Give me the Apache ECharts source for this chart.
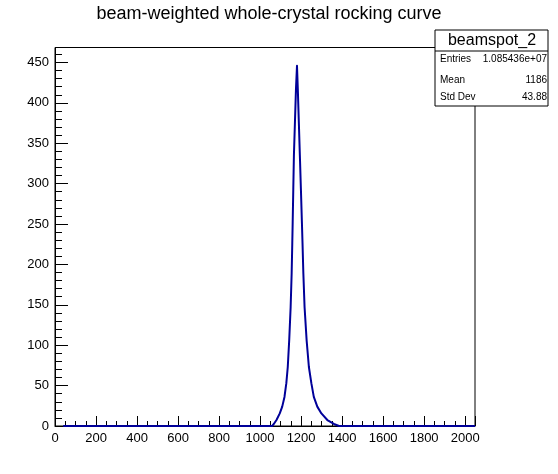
<!DOCTYPE html>
<html>
<head>
<meta charset="utf-8">
<script src="https://cdn.jsdelivr.net/npm/echarts@6/dist/echarts.min.js"></script>
<style>
html,body{margin:0;padding:0;background:#fff;}
#c{width:558px;height:474px;}
</style>
</head>
<body>
<div id="c"></div>
<script>
// Histogram sample points (x = channel, y = counts)
const binX = [40, 1040, 1059, 1067, 1080, 1096, 1108, 1119, 1128, 1135, 1142, 1149, 1154, 1157, 1159, 1162, 1165, 1170, 1175, 1180,
              1184, 1189, 1194, 1199, 1204, 1207, 1211, 1217, 1227, 1238, 1250, 1262, 1279, 1299, 1328, 1360, 1385, 2048];
const binY = [0, 0, 0, 2.5, 7.4, 15.6, 24, 36, 53, 73, 106, 147, 189, 226, 252, 294, 335, 376, 417, 446,
              417, 376, 335, 294, 252, 226, 189, 147, 106, 73, 53, 36, 24, 15.6, 7.4, 2.5, 0, 0];
const statsLabels = ["Entries", "Mean", "Std Dev"];
const statsValues = ["1.085436e+07", "1186", "43.88"];
const histName = "beamspot_2";
const chartTitle = "beam-weighted whole-crystal rocking curve";

const FONT = "Liberation Sans";
const chart = echarts.init(document.getElementById('c'), null, {renderer: 'canvas'});

const graphics = [
  {type: 'text', x: 269, y: 14, style: {text: chartTitle, font: '18px "' + FONT + '"', fill: '#000', textAlign: 'center', textVerticalAlign: 'middle'}, z: 101},
  {type: 'rect', shape: {x: 435, y: 30, width: 113, height: 76}, style: {fill: '#fff', stroke: '#000', lineWidth: 1}, z: 100},
  {type: 'line', shape: {x1: 435, y1: 51, x2: 548, y2: 51}, style: {stroke: '#000', lineWidth: 1}, z: 101},
  {type: 'text', x: 492, y: 40.5, style: {text: histName, font: '16px "' + FONT + '"', fill: '#000', textAlign: 'center', textVerticalAlign: 'middle'}, z: 101}
];
const rowY = [59.5, 80.5, 97];
statsLabels.forEach((l, i) => {
  graphics.push({type: 'text', x: 440, y: rowY[i], style: {text: l, font: '10px "' + FONT + '"', fill: '#000', textAlign: 'left', textVerticalAlign: 'middle'}, z: 101});
  graphics.push({type: 'text', x: 547, y: rowY[i], style: {text: statsValues[i], font: '10px "' + FONT + '"', fill: '#000', textAlign: 'right', textVerticalAlign: 'middle'}, z: 101});
});

chart.setOption({
  animation: false,
  backgroundColor: '#fff',
  grid: {left: 55, right: 83, top: 47.5, bottom: 48, show: true, borderColor: '#000', borderWidth: 1, backgroundColor: 'transparent'},
  xAxis: {
    type: 'value', min: 0, max: 2048, interval: 200,
    axisLine: {show: true, onZero: false, lineStyle: {color: '#000', width: 1}},
    axisTick: {show: true, inside: true, length: 10, lineStyle: {color: '#000'}},
    minorTick: {show: true, splitNumber: 4, length: 5, lineStyle: {color: '#000'}},
    splitLine: {show: false},
    axisLabel: {color: '#000', fontFamily: FONT, fontSize: 13, margin: 6, showMaxLabel: false,
      formatter: v => (v % 200 === 0 ? String(v) : '')}
  },
  yAxis: {
    type: 'value', min: 0, max: 468.5, interval: 50,
    axisLine: {show: true, lineStyle: {color: '#000', width: 1}},
    axisTick: {show: true, inside: true, length: 13, lineStyle: {color: '#000'}},
    minorTick: {show: true, splitNumber: 5, length: 7, lineStyle: {color: '#000'}},
    splitLine: {show: false},
    axisLabel: {color: '#000', fontFamily: FONT, fontSize: 13, margin: 6, showMaxLabel: false,
      formatter: v => (v % 50 === 0 ? String(v) : '')}
  },
  series: [{
    type: 'line',
    data: binX.map((x, i) => [x, binY[i]]),
    showSymbol: false,
    smooth: false,
    lineStyle: {color: '#000099', width: 2, join: 'round'},
    z: 5
  }],
  graphic: graphics
});
</script>
</body>
</html>
